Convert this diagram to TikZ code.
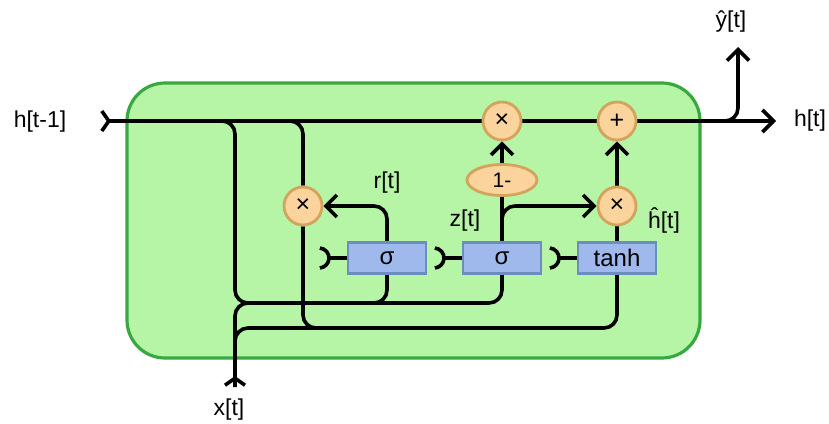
\documentclass[tikz,border=0pt]{standalone}
\usepackage{fontspec}
\setmainfont{Liberation Sans}
\usetikzlibrary{arrows.meta,shapes.geometric}
\definecolor{gfill}{HTML}{B5F5A5}
\definecolor{gdraw}{HTML}{38A840}
\definecolor{ofill}{HTML}{FAD49C}
\definecolor{odraw}{HTML}{D4A45C}
\definecolor{bfill}{HTML}{9FB9EC}
\definecolor{bdraw}{HTML}{6C8EBF}
\pgfdeclarelayer{back}
\pgfdeclarelayer{wires}
\pgfsetlayers{back,wires,main}
\begin{document}
\begin{tikzpicture}[x=1pt,y=-1pt,
  wire/.style={line width=3.6pt, rounded corners=13pt},
  endtip/.style={-{Straight Barb[length=11pt,width=22pt]}},
  tailtip/.style={{Straight Barb[reversed,length=7pt,width=20pt]}-},
  halfcup/.style={line width=3.6pt},
  op/.style={circle, draw=odraw, fill=ofill, line width=2.8pt, minimum size=38pt, inner sep=0pt, font=\fontsize{25}{27}\selectfont},
  gate/.style={rectangle, draw=bdraw, fill=bfill, line width=2.8pt, minimum width=78pt, minimum height=31pt, inner sep=0pt, font=\fontsize{24}{26}\selectfont},
  lbl/.style={inner sep=0pt, font=\fontsize{23}{25}\selectfont},
  cellbox/.style={rectangle, draw=gdraw, fill=gfill, line width=3.2pt, rounded corners=38pt, minimum width=573pt, minimum height=275pt}
]
\useasboundingbox (0,0) rectangle (829,423);

% nodes
\node[op] (m1) at (502,121) {×};
\node[op] (p1) at (617,121) {+};
\node[op] (rm) at (303,206) {×};
\node[op] (hm) at (617,206) {×};
\node[ellipse, draw=odraw, fill=ofill, line width=2.8pt, minimum width=70pt, minimum height=31pt, inner sep=0pt, font=\fontsize{21}{23}\selectfont] (om) at (502,180) {1-};
\node[gate] (s1) at (387,258) {σ};
\node[gate] (s2) at (502,258) {σ};
\node[gate] (th) at (617,258) {tanh};

\node[lbl] (lhin) at (40,122) {h[t-1]};
\node[lbl] (lhout) at (810,121) {h[t]};
\node[lbl] (ly) at (731,22) {ŷ[t]};
\node[lbl] (lx) at (229,410) {x[t]};
\node[lbl] (lr) at (387,183) {r[t]};
\node[lbl] (lz) at (465,221) {z[t]};
\node[lbl] (lh) at (664,220) {ĥ[t]};

\coordinate (hin) at (100,121);
\coordinate (hbr) at (150,121);
\coordinate (hout) at (776,121);
\coordinate (yout) at (738,47);
\coordinate (xin) at (235,387);
\coordinate (i1) at (329,258);
\coordinate (i2) at (444,258);
\coordinate (i3) at (559,258);

\begin{pgfonlayer}{back}
\node[cellbox] (cell) at (413.5,220.5) {};
\end{pgfonlayer}

\begin{pgfonlayer}{wires}
% main state line
\draw[wire, tailtip] (hin) -- (m1);
\draw[wire] (m1) -- (p1);
\draw[wire, endtip] (p1) -- (hout);
\draw[wire, endtip] (p1) -- (738,121) -- (yout);
% h[t-1] branches
\draw[wire] (hbr) -- (235,121) -- (235,303) -- (502,303) -- (s2.south);
\draw[wire] (hbr) -- (303,121) -- (rm);
\draw[wire] (rm) -- (303,328) -- (617,328) -- (th.south);
\draw[wire] (s1.south) -- (387,303) -- (255,303);
% x[t]
\draw[wire, tailtip] (xin) -- (235,328) -- (330,328);
\draw[wire] (xin) -- (235,303) -- (265,303);
% gate outputs
\draw[wire, endtip] (s1.north) -- (387,206) -- (rm);
\draw[wire] (s2.north) -- (om);
\draw[wire, endtip] (s2.north) -- (502,206) -- (hm);
\draw[wire, endtip] (om) -- (m1);
\draw[wire] (th.north) -- (hm);
\draw[wire, endtip] (hm) -- (p1);
% gate inputs
\draw[wire] (i1) -- (s1.west);
\draw[wire] (i2) -- (s2.west);
\draw[wire] (i3) -- (th.west);
\draw[halfcup] (i1) ++(-10,0) ++(-85:10) arc[start angle=-85, end angle=85, radius=10];
\draw[halfcup] (i2) ++(-10,0) ++(-85:10) arc[start angle=-85, end angle=85, radius=10];
\draw[halfcup] (i3) ++(-10,0) ++(-85:10) arc[start angle=-85, end angle=85, radius=10];
\end{pgfonlayer}
\end{tikzpicture}
\end{document}
